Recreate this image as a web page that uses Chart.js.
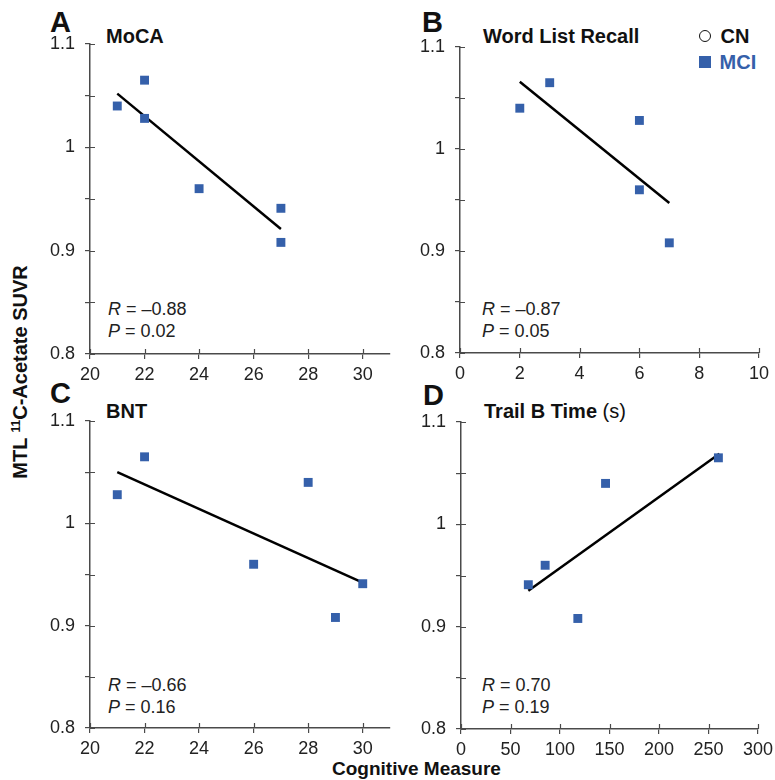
<!DOCTYPE html>
<html lang="en">
<head>
<meta charset="UTF-8">
<title>MTL 11C-Acetate SUVR vs cognitive measures</title>
<script src="https://cdn.jsdelivr.net/npm/chart.js"></script>
<style>
    body {
        margin: 0;
        width: 775px;
        height: 780px;
        background: #fff;
        font-family: "Liberation Sans", Arial, sans-serif;
        position: relative;
        overflow: hidden;
    }
    .panel { position: absolute; }
    .txt {
        position: absolute;
        line-height: 1;
        white-space: nowrap;
        color: #111;
    }
    .letter { font-size: 29px; font-weight: bold; }
    .title { font-size: 20px; font-weight: bold; }
    .stat { font-size: 18px; color: #222; }
    .legend { font-size: 20px; font-weight: bold; }
</style>
</head>
<body>

<div class="txt letter" style="left:50px; top:8px;">A</div>
<div class="txt title" style="left:106px; top:26px;">MoCA</div>
<div class="txt stat" style="left:108px; top:300px;"><i>R</i> = &ndash;0.88</div>
<div class="txt stat" style="left:108px; top:322px;"><i>P</i> = 0.02</div>

<div class="txt letter" style="left:422px; top:8px;">B</div>
<div class="txt title" style="left:483px; top:26px;">Word List Recall</div>
<div class="txt stat" style="left:482px; top:300px;"><i>R</i> = &ndash;0.87</div>
<div class="txt stat" style="left:482px; top:322px;"><i>P</i> = 0.05</div>

<div class="txt letter" style="left:50px; top:379px;">C</div>
<div class="txt title" style="left:106px; top:401px;">BNT</div>
<div class="txt stat" style="left:108px; top:676px;"><i>R</i> = &ndash;0.66</div>
<div class="txt stat" style="left:108px; top:698px;"><i>P</i> = 0.16</div>

<div class="txt letter" style="left:423px; top:381px;">D</div>
<div class="txt title" style="left:484px; top:401px;">Trail B Time <span style="font-weight:normal">(s)</span></div>
<div class="txt stat" style="left:482px; top:676px;"><i>R</i> = 0.70</div>
<div class="txt stat" style="left:482px; top:698px;"><i>P</i> = 0.19</div>

<div class="txt legend" style="left:699px; top:26px;">
    <span style="display:inline-block; width:10px; height:10px; border:1.5px solid #111; border-radius:50%; vertical-align:1px;"></span>
    <span style="margin-left:4px;">CN</span>
</div>
<div class="txt legend" style="left:699px; top:52px; color:#3560aa;">
    <span style="display:inline-block; width:12px; height:12px; background:#3560aa; vertical-align:1px;"></span>
    <span style="margin-left:3px;">MCI</span>
</div>

<div class="txt title" style="left:20px; top:372px; transform: translate(-50%, -50%) rotate(-90deg);">MTL <sup style="font-size:12px;">11</sup>C-Acetate SUVR</div>
<div class="txt title" style="left:332px; top:759px; font-size:19px;">Cognitive Measure</div>

<div class="panel" id="pA"><canvas id="cA"></canvas></div>
<div class="panel" id="pB"><canvas id="cB"></canvas></div>
<div class="panel" id="pC"><canvas id="cC"></canvas></div>
<div class="panel" id="pD"><canvas id="cD"></canvas></div>

<script>
    // y values: MTL 11C-Acetate SUVR, x values: cognitive score (MCI group)
    const yTickStep = 0.05;

    const mocaX = [21, 22, 22, 24, 27, 27];
    const mocaY = [1.040, 1.065, 1.028, 0.960, 0.941, 0.908];
    const mocaFitX = [21, 27];
    const mocaFitY = [1.052, 0.921];

    const wordX = [2, 3, 6, 6, 7];
    const wordY = [1.040, 1.065, 1.028, 0.960, 0.908];
    const wordFitX = [2, 7];
    const wordFitY = [1.066, 0.947];

    const bntX = [21, 22, 26, 28, 29, 30];
    const bntY = [1.028, 1.065, 0.960, 1.040, 0.908, 0.941];
    const bntFitX = [21, 30];
    const bntFitY = [1.050, 0.942];

    const trailX = [68, 85, 118, 146, 260];
    const trailY = [0.941, 0.960, 0.908, 1.040, 1.065];
    const trailFitX = [68, 261];
    const trailFitY = [0.935, 1.069];

    const axisColor = '#4a4a4a';
    const mciColor = '#3560aa';
    const Y_AXIS_W = 70, X_AXIS_H = 36, PAD_T = 12, PAD_R = 24;

    Chart.defaults.font.family = '"Liberation Sans", Arial, sans-serif';

    // short tick marks on the inner side of each axis (the library draws the outer half)
    const innerTicks = {
        id: 'innerTicks',
        afterDraw(chart) {
            const { ctx, chartArea } = chart;
            const xs = chart.scales.x, ys = chart.scales.y;
            ctx.save();
            ctx.strokeStyle = axisColor;
            ctx.lineWidth = 1.2;
            ctx.beginPath();
            xs.ticks.forEach(t => {
                const px = Math.round(xs.getPixelForValue(t.value)) + 0.5;
                ctx.moveTo(px, chartArea.bottom);
                ctx.lineTo(px, chartArea.bottom - 5);
            });
            ys.ticks.forEach(t => {
                const py = Math.round(ys.getPixelForValue(t.value)) + 0.5;
                ctx.moveTo(chartArea.left, py);
                ctx.lineTo(chartArea.left + 5, py);
            });
            ctx.stroke();
            ctx.restore();
        }
    };

    function pts(xs, ys) {
        return xs.map((x, i) => ({ x: x, y: ys[i] }));
    }

    function makePanel(id, area, xMin, xMax, xStep, xLast, xs, ys, fitX, fitY) {
        const w = (area.r - area.l) + Y_AXIS_W + PAD_R;
        const h = (area.b - area.t) + PAD_T + X_AXIS_H;
        const box = document.getElementById('p' + id);
        box.style.left = (area.l - Y_AXIS_W) + 'px';
        box.style.top = (area.t - PAD_T) + 'px';
        const cv = document.getElementById('c' + id);
        cv.width = w; cv.height = h;
        cv.style.width = w + 'px'; cv.style.height = h + 'px';

        return new Chart(cv.getContext('2d'), {
            type: 'scatter',
            data: {
                datasets: [
                    {
                        label: 'fit',
                        data: pts(fitX, fitY),
                        showLine: true,
                        borderColor: '#000',
                        borderWidth: 2.5,
                        pointRadius: 0,
                        order: 2
                    },
                    {
                        label: 'MCI',
                        data: pts(xs, ys),
                        pointStyle: 'rect',
                        pointRadius: 6.3,
                        backgroundColor: mciColor,
                        borderColor: mciColor,
                        borderWidth: 0,
                        order: 1
                    }
                ]
            },
            options: {
                responsive: false,
                animation: false,
                events: [],
                layout: { padding: { left: 0, top: PAD_T, right: PAD_R, bottom: 0 } },
                plugins: { legend: { display: false }, tooltip: { enabled: false } },
                scales: {
                    x: {
                        type: 'linear',
                        min: xMin,
                        max: xMax,
                        bounds: 'data',
                        ticks: {
                            stepSize: xStep,
                            autoSkip: false,
                            maxRotation: 0,
                            padding: 5,
                            color: '#222',
                            font: { size: 18 }
                        },
                        grid: { drawOnChartArea: false, tickLength: 5, color: axisColor, lineWidth: 1.2 },
                        border: { color: axisColor, width: 1.5 },
                        afterBuildTicks: s => { s.ticks = s.ticks.filter(t => t.value <= xLast + 1e-9); },
                        afterFit: s => { s.height = X_AXIS_H; s.paddingLeft = 0; s.paddingRight = 0; }
                    },
                    y: {
                        min: 0.8,
                        max: 1.1,
                        ticks: {
                            stepSize: yTickStep,
                            autoSkip: false,
                            padding: 10,
                            color: '#222',
                            font: { size: 18 },
                            callback: v => Math.abs(v * 10 - Math.round(v * 10)) < 1e-6 ? String(+v.toFixed(1)) : ''
                        },
                        grid: { drawOnChartArea: false, tickLength: 5, color: axisColor, lineWidth: 1.2 },
                        border: { color: axisColor, width: 1.5 },
                        afterFit: s => { s.width = Y_AXIS_W; s.paddingTop = 0; s.paddingBottom = 0; }
                    }
                }
            },
            plugins: [innerTicks]
        });
    }

    makePanel('A', { l: 90, r: 390, t: 44, b: 354 }, 20, 31, 2, 30, mocaX, mocaY, mocaFitX, mocaFitY);
    makePanel('B', { l: 460, r: 759, t: 47, b: 353 }, 0, 10, 2, 10, wordX, wordY, wordFitX, wordFitY);
    makePanel('C', { l: 90, r: 390, t: 421, b: 728 }, 20, 31, 2, 30, bntX, bntY, bntFitX, bntFitY);
    makePanel('D', { l: 461, r: 758, t: 422, b: 729 }, 0, 300, 50, 300, trailX, trailY, trailFitX, trailFitY);
</script>
</body>
</html>
